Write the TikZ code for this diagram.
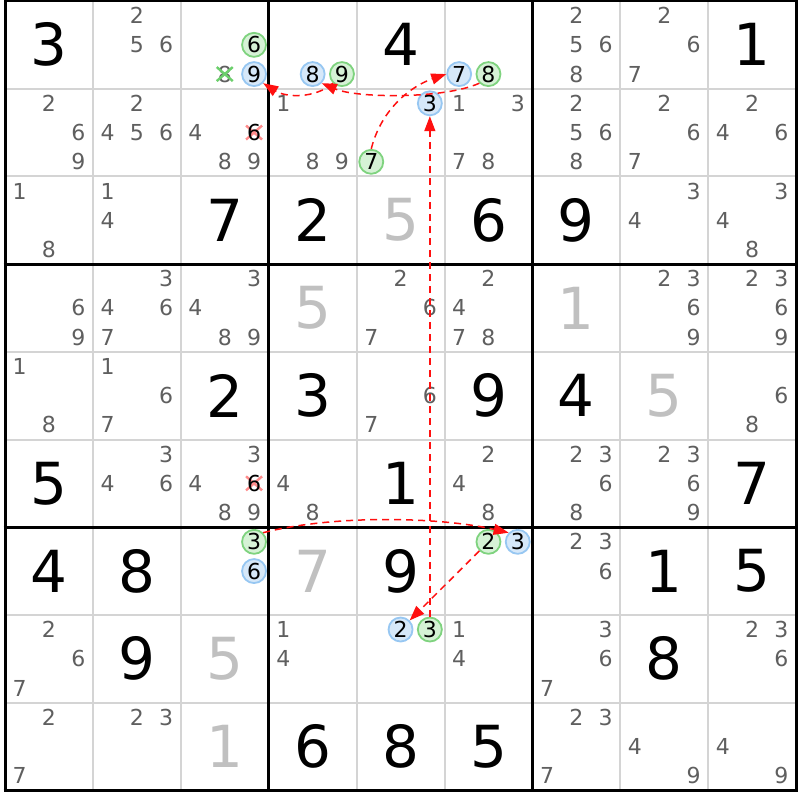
\documentclass[tikz,border=0pt]{standalone}
\usepackage{fontspec}
\setmainfont{DejaVu Sans}
\usetikzlibrary{arrows.meta,calc}
\definecolor{candgray}{HTML}{5F5F5F}
\definecolor{solgray}{HTML}{C0C0C0}
\definecolor{gridgray}{HTML}{D4D4D4}
\definecolor{grfill}{HTML}{D6F2D6}
\definecolor{grline}{HTML}{7FD37F}
\definecolor{blfill}{HTML}{D6E8F9}
\definecolor{blline}{HTML}{97C7F2}
\definecolor{xred}{HTML}{FF8C8C}
\definecolor{xgreen}{HTML}{6CCF6C}
\definecolor{chainred}{HTML}{FF1010}
\newcommand\kand[4]{%
  \pgfmathsetmacro\sdkx{5+87.9*(#3-1)+87.9*(2*mod(#4-1,3)+1)/6}%
  \pgfmathsetmacro\sdky{1+87.7*(#2-1)+87.7*(2*floor((#4-1)/3)+1)/6}%
  \node[#1] (k#2#3#4) at (\sdkx,\sdky) {#4};%
}
\tikzset{
  candtxt/.style={inner sep=0pt, text=candgray, font=\fontsize{22}{22}\selectfont},
  given/.style={inner sep=0pt, text=black, font=\fontsize{58}{58}\selectfont},
  solved/.style={given, text=solgray},
  oncirc/.style={circle, inner sep=0pt, minimum size=24pt, draw=grline, fill=grfill, line width=1.8pt, text=black, font=\fontsize{22}{22}\selectfont},
  offcirc/.style={oncirc, draw=blline, fill=blfill},
  blacktxt/.style={candtxt, text=black},
  chain/.style={draw=chainred, line width=1.5pt, dash pattern=on 7pt off 5pt, -{Triangle[length=15pt,width=11pt]}},
  gridthin/.style={draw=gridgray, line width=2pt},
  gridthick/.style={draw=black, line width=3pt},
  xmark/.style={line width=2.4pt},
}
\begin{document}
\begin{tikzpicture}[x=1pt,y=-1pt]
\useasboundingbox (0,0) rectangle (800,800);
\fill[white] (0,0) rectangle (800,800);
% thin grid
\foreach \i in {1,2,4,5,7,8}{
  \draw[gridthin] ({5+87.9*\i},1) -- ({5+87.9*\i},{1+87.7*9});
  \draw[gridthin] (5,{1+87.7*\i}) -- ({5+87.9*9},{1+87.7*\i});
}
\foreach \i in {0,3,6,9}{
  \draw[gridthick] ({5+87.9*\i},-0.5) -- ({5+87.9*\i},{1+87.7*9+1.5});
  \draw[gridthick] (3.5,{1+87.7*\i}) -- ({5+87.9*9+1.5},{1+87.7*\i});
}
% givens
\foreach \r/\c/\v in {1/1/3,1/5/4,1/9/1,3/3/7,3/4/2,3/6/6,3/7/9,5/3/2,5/4/3,5/6/9,5/7/4,6/1/5,6/5/1,6/9/7,7/1/4,7/2/8,7/5/9,7/8/1,7/9/5,8/2/9,8/8/8,9/4/6,9/5/8,9/6/5}{
  \node[given] (g\r\c) at ({5+87.9*(\c-0.5)},{1+87.7*(\r-0.5)}) {\v};
}
% solved (gray)
\foreach \r/\c/\v in {3/5/5,4/4/5,4/7/1,5/8/5,7/4/7,8/3/5,9/3/1}{
  \node[solved] (g\r\c) at ({5+87.9*(\c-0.5)},{1+87.7*(\r-0.5)}) {\v};
}
% plain candidates
\foreach \r/\c/\L in {1/2/{2,5,6},1/7/{2,5,6,8},1/8/{2,6,7},
  2/1/{2,6,9},2/2/{2,4,5,6},2/3/{4,8,9},2/4/{1,8,9},2/6/{1,3,7,8},2/7/{2,5,6,8},2/8/{2,6,7},2/9/{2,4,6},
  3/1/{1,8},3/2/{1,4},3/8/{3,4},3/9/{3,4,8},
  4/1/{6,9},4/2/{3,4,6,7},4/3/{3,4,8,9},4/5/{2,6,7},4/6/{2,4,7,8},4/8/{2,3,6,9},4/9/{2,3,6,9},
  5/1/{1,8},5/2/{1,6,7},5/5/{6,7},5/9/{6,8},
  6/2/{3,4,6},6/3/{3,4,8,9},6/4/{4,8},6/6/{2,4,8},6/7/{2,3,6,8},6/8/{2,3,6,9},
  7/7/{2,3,6},
  8/1/{2,6,7},8/4/{1,4},8/6/{1,4},8/7/{3,6,7},8/9/{2,3,6},
  9/1/{2,7},9/2/{2,3},9/7/{2,3,7},9/8/{4,9},9/9/{4,9}}{
  \foreach \d in \L {\kand{candtxt}{\r}{\c}{\d}}
}
% crossed candidates
\kand{candtxt}{1}{3}{8}
\draw[xmark, xgreen] ($(k138.center)+(-8,-7)$) -- ($(k138.center)+(8,7)$);
\draw[xmark, xgreen] ($(k138.center)+(-8,7)$) -- ($(k138.center)+(8,-7)$);
\foreach \r in {2,6}{
  \pgfmathsetmacro\sdkx{5+87.9*2+87.9*5/6}
  \pgfmathsetmacro\sdky{1+87.7*(\r-1)+87.7*3/6}
  \draw[xmark, xred] (\sdkx-8,\sdky-7) -- (\sdkx+8,\sdky+7);
  \draw[xmark, xred] (\sdkx-8,\sdky+7) -- (\sdkx+8,\sdky-7);
  \kand{blacktxt}{\r}{3}{6}
}
% circled candidates
\kand{oncirc}{1}{3}{6}
\kand{offcirc}{1}{3}{9}
\kand{offcirc}{1}{4}{8}
\kand{oncirc}{1}{4}{9}
\kand{offcirc}{1}{6}{7}
\kand{oncirc}{1}{6}{8}
\kand{offcirc}{2}{5}{3}
\kand{oncirc}{2}{5}{7}
\kand{oncirc}{7}{3}{3}
\kand{offcirc}{7}{3}{6}
\kand{oncirc}{7}{6}{2}
\kand{offcirc}{7}{6}{3}
\kand{offcirc}{8}{5}{2}
\kand{oncirc}{8}{5}{3}
% chain
\draw[chain] (k733.north east) .. controls +(70,-18) and +(-70,-16) .. (k763.north west);
\draw[chain] (k762.south west) -- (k852.north east);
\draw[chain] (k853.north) -- (k253.south);
\draw[chain] (k257.north) .. controls +(10,-40) and +(-35,12) .. (k167.west);
\draw[chain] (k168.south west) .. controls +(-35,16) and +(35,15) .. (k148.south east);
\draw[chain] (k149.south west) .. controls +(-18,16) and +(22,14) .. (k139.south east);
\end{tikzpicture}
\end{document}
